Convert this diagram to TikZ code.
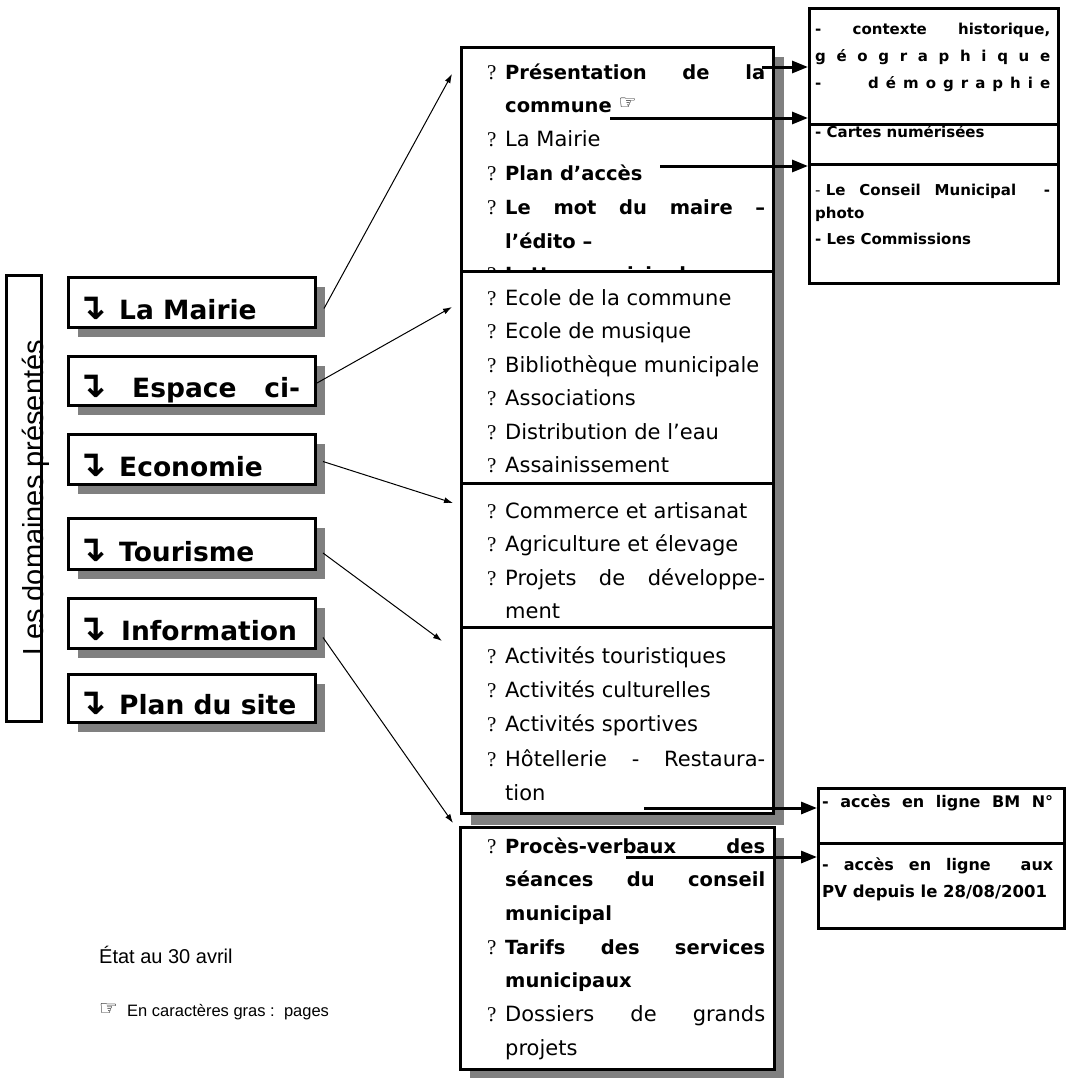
\documentclass[tikz,border=0pt]{standalone}
\usepackage{fontspec}
\setmainfont{DejaVu Sans}
\newfontfamily\libsans{Liberation Sans}
\newfontfamily\libserif{Liberation Serif}
\newfontfamily\dvsym{DejaVu Sans}
\usetikzlibrary{arrows.meta}
\definecolor{shad}{RGB}{128,128,128}
\newcommand\mfont{\fontsize{21}{25}\selectfont\mdseries}
\newcommand\bmfont{\fontsize{19.5}{25}\selectfont\bfseries}
\newcommand\qmark{{\fontsize{21}{25}\selectfont\makebox[18pt][l]{\libserif ?}}}
\newcommand\lfont{\fontsize{26.5}{30}\selectfont\bfseries}
\newcommand\lsym{{\dvsym\bfseries\fontsize{36}{40}\selectfont ↴}}
\newcommand\rfont{\fontsize{15}{18}\selectfont\bfseries}
\begin{document}
\begin{tikzpicture}[x=1pt,y=-1pt,
  box/.style={draw, line width=3pt, fill=white, rectangle, inner sep=0pt, anchor=north west},
  shadowbox/.style={fill=shad, draw=none},
  txt/.style={anchor=base west, inner sep=0pt},
  bigarrow/.style={line width=3pt, -{Triangle[length=16pt,width=12pt]}},
  thinarrow/.style={line width=1pt, -{Latex[length=9pt,width=6pt]}}]
\useasboundingbox (0,0) rectangle (1066,1079);
\fill[white] (0,0) rectangle (1066,1079);

% ---- shadows of the middle column
\fill[shadowbox] (471,57) rectangle (784,825);
\fill[shadowbox] (470,838) rectangle (784,1078);

% ---- middle column sections
\node[box, minimum width=312pt, minimum height=224pt] (sec1) at (460,46) {};
\node[box, minimum width=312pt, minimum height=212pt] (sec2) at (460,270) {};
\node[box, minimum width=312pt, minimum height=144pt] (sec3) at (460,482) {};
\node[box, minimum width=312pt, minimum height=186pt] (sec4) at (460,626) {};
\node[box, minimum width=314pt, minimum height=242pt] (sec5) at (459,826) {};

% section 1
\node[txt] (s1a) at (487,79) {\hbox to 278pt{\qmark\bmfont Présentation\hfill de\hfill la}};
\node[txt] (s1b) at (505,112.8) {\bmfont commune {\dvsym\mdseries\fontsize{20}{20}\selectfont\raisebox{3pt}{☞}}};
\node[txt] (s1c) at (487,146.6) {\qmark\mfont La Mairie};
\node[txt] (s1d) at (487,180.4) {\qmark\bmfont Plan d’accès};
\node[txt] (s1e) at (487,214.2) {\hbox to 278pt{\qmark\bmfont Le\hfill mot\hfill du\hfill maire\hfill –}};
\node[txt] (s1f) at (505,248) {\bmfont l’édito –};
\begin{scope}
\clip (461,47) rectangle (771,269);
\node[txt] (s1g) at (487,281.8) {\qmark\bmfont Lettre municipale};
\end{scope}

% section 2
\node[txt] (s2a) at (487,305) {\qmark\mfont Ecole de la commune};
\node[txt] (s2b) at (487,338.5) {\qmark\mfont Ecole de musique};
\node[txt] (s2c) at (487,372) {\qmark\mfont Bibliothèque municipale};
\node[txt] (s2d) at (487,405.5) {\qmark\mfont Associations};
\node[txt] (s2e) at (487,439) {\qmark\mfont Distribution de l’eau};
\node[txt] (s2f) at (487,472.5) {\qmark\mfont Assainissement};

% section 3
\node[txt] (s3a) at (487,518) {\qmark\mfont Commerce et artisanat};
\node[txt] (s3b) at (487,551.5) {\qmark\mfont Agriculture et élevage};
\node[txt] (s3c) at (487,585) {\hbox to 278pt{\qmark\mfont Projets\hfill de\hfill développe-}};
\node[txt] (s3d) at (505,618.5) {\mfont ment};

% section 4
\node[txt] (s4a) at (487,663) {\qmark\mfont Activités touristiques};
\node[txt] (s4b) at (487,697) {\qmark\mfont Activités culturelles};
\node[txt] (s4c) at (487,731) {\qmark\mfont Activités sportives};
\node[txt] (s4d) at (487,766) {\hbox to 278pt{\qmark\mfont Hôtellerie\hfill -\hfill Restaura-}};
\node[txt] (s4e) at (505,800) {\mfont tion};

% section 5
\node[txt] (s5a) at (487,853) {\hbox to 278pt{\qmark\bmfont Procès-verbaux\hfill des}};
\node[txt] (s5b) at (505,886.7) {\hbox to 260pt{\bmfont séances\hfill du\hfill conseil}};
\node[txt] (s5c) at (505,920.4) {\bmfont municipal};
\node[txt] (s5d) at (487,954) {\hbox to 278pt{\qmark\bmfont Tarifs\hfill des\hfill services}};
\node[txt] (s5e) at (505,987.8) {\bmfont municipaux};
\node[txt] (s5f) at (487,1021.5) {\hbox to 278pt{\qmark\mfont Dossiers\hfill de\hfill grands}};
\node[txt] (s5g) at (505,1055) {\mfont projets};

% ---- top right boxes
\node[box, minimum width=249pt, minimum height=116pt] (tr1) at (808,7) {};
\node[box, minimum width=249pt, minimum height=40pt] (tr2) at (808,123) {};
\node[box, minimum width=249pt, minimum height=119pt] (tr3) at (808,163) {};
\node[txt] (t1a) at (815,34) {\hbox to 235pt{\rfont -\hfill contexte\hfill historique,}};
\node[txt] (t1b) at (815,61) {\hbox to 235pt{\rfont g\hfill é\hfill o\hfill g\hfill r\hfill a\hfill p\hfill h\hfill i\hfill q\hfill u\hfill e}};
\node[txt] (t1c) at (815,88) {\rfont -};
\node[txt] (t1d) at (868,88) {\hbox to 182pt{\rfont d\hfill é\hfill m\hfill o\hfill g\hfill r\hfill a\hfill p\hfill h\hfill i\hfill e}};
\node[txt] (t2a) at (815,137) {\rfont - Cartes numérisées};
\node[txt] (t3a) at (815,195) {\hbox to 235pt{\rfont{\mdseries -} Le\hfill Conseil\hfill Municipal\hskip 0pt plus 2fill -}};
\node[txt] (t3b) at (815,218) {\rfont photo};
\node[txt] (t3c) at (815,244) {\rfont - Les Commissions};

% ---- bottom right boxes
\node[box, minimum width=246pt, minimum height=55pt] (bm) at (817,787) {};
\node[box, minimum width=246pt, minimum height=85pt] (pv) at (817,842) {};
\node[txt] (b1) at (822,807) {\hbox to 231pt{\fontsize{16}{18}\selectfont\bfseries -\hfill accès\hfill en\hfill ligne\hfill BM\hfill N°}};
\node[txt] (b2) at (822,870) {\hbox to 231pt{\fontsize{16}{18}\selectfont\bfseries -\hfill accès\hfill en\hfill ligne\hskip 0pt plus 2fill aux}};
\node[txt] (b3) at (822,897) {\fontsize{16.5}{18}\selectfont\bfseries PV depuis le 28/08/2001};

% ---- left column
\fill[shadowbox] (78,287) rectangle (325,337);
\fill[shadowbox] (78,366) rectangle (325,415);
\fill[shadowbox] (78,444) rectangle (325,494);
\fill[shadowbox] (78,528) rectangle (325,579);
\fill[shadowbox] (78,608) rectangle (325,658);
\fill[shadowbox] (78,684) rectangle (325,732);
\node[box, minimum width=247pt, minimum height=50pt] (LM) at (67,276) {};
\node[box, minimum width=247pt, minimum height=49pt] (ES) at (67,355) {};
\node[box, minimum width=247pt, minimum height=50pt] (EC) at (67,433) {};
\node[box, minimum width=247pt, minimum height=51pt] (TO) at (67,517) {};
\node[box, minimum width=247pt, minimum height=50pt] (IN) at (67,597) {};
\node[box, minimum width=247pt, minimum height=48pt] (PL) at (67,673) {};
\node[txt] (LMs) at (76,319.5) {\lsym};
\node[txt] (LMt) at (119,319.5) {\lfont La Mairie};
\node[txt] (ESs) at (76,397.5) {\lsym};
\node[txt] (ESt) at (132,397.5) {\hbox to 168pt{\lfont Espace\hfill ci-}};
\node[txt] (ECs) at (76,476.5) {\lsym};
\node[txt] (ECt) at (119,476.5) {\lfont Economie};
\node[txt] (TOs) at (76,561.5) {\lsym};
\node[txt] (TOt) at (119,561.5) {\lfont Tourisme};
\node[txt] (INs) at (76,640.5) {\lsym};
\node[txt] (INt) at (121,640.5) {\lfont Information};
\node[txt] (PLs) at (76,714.5) {\lsym};
\node[txt] (PLt) at (119,714.5) {\lfont Plan du site};

% vertical box
\node[draw, line width=3pt, rectangle, inner sep=0pt, anchor=north west, minimum width=35pt, minimum height=446pt] (vb) at (5,274) {};
\node[rotate=90, anchor=base, inner sep=0pt] (vt) at (43,498) {\libsans\fontsize{29}{32}\selectfont Les domaines présentés};

% ---- thin connectors
\coordinate (e1) at (452,74);
\coordinate (e2) at (452,307);
\coordinate (e3) at (453,503);
\coordinate (e4) at (442,641);
\coordinate (e5) at (453,823);
\draw[thinarrow] ([shift={(7,6)}]LM.east) -- (e1);
\draw[thinarrow] ([shift={(0,2)}]ES.east) -- (e2);
\draw[thinarrow] ([shift={(6,2)}]EC.east) -- (e3);
\draw[thinarrow] ([shift={(6,9)}]TO.east) -- (e4);
\draw[thinarrow] ([shift={(6,14)}]IN.east) -- (e5);

% ---- thick arrows
\coordinate (a1) at (762,67);
\coordinate (a2) at (610,118);
\coordinate (a3) at (660,166);
\coordinate (a4) at (644,808);
\coordinate (a5) at (626,857);
\draw[bigarrow] (a1) -- (a1 -| tr1.west);
\draw[bigarrow] (a2) -- (a2 -| tr1.west);
\draw[bigarrow] (a3) -- (a3 -| tr3.west);
\draw[bigarrow] (a4) -- (a4 -| bm.west);
\draw[bigarrow] (a5) -- (a5 -| pv.west);

% ---- footnotes
\node[txt] (f1) at (99,963) {\libsans\fontsize{20}{24}\selectfont État au 30 avril};
\node[txt] (f2s) at (99,1015) {\dvsym\fontsize{21}{22}\selectfont ☞};
\node[txt] (f2) at (127,1016) {\libsans\fontsize{16.5}{20}\selectfont En caractères gras :\ \ pages};
\end{tikzpicture}
\end{document}
